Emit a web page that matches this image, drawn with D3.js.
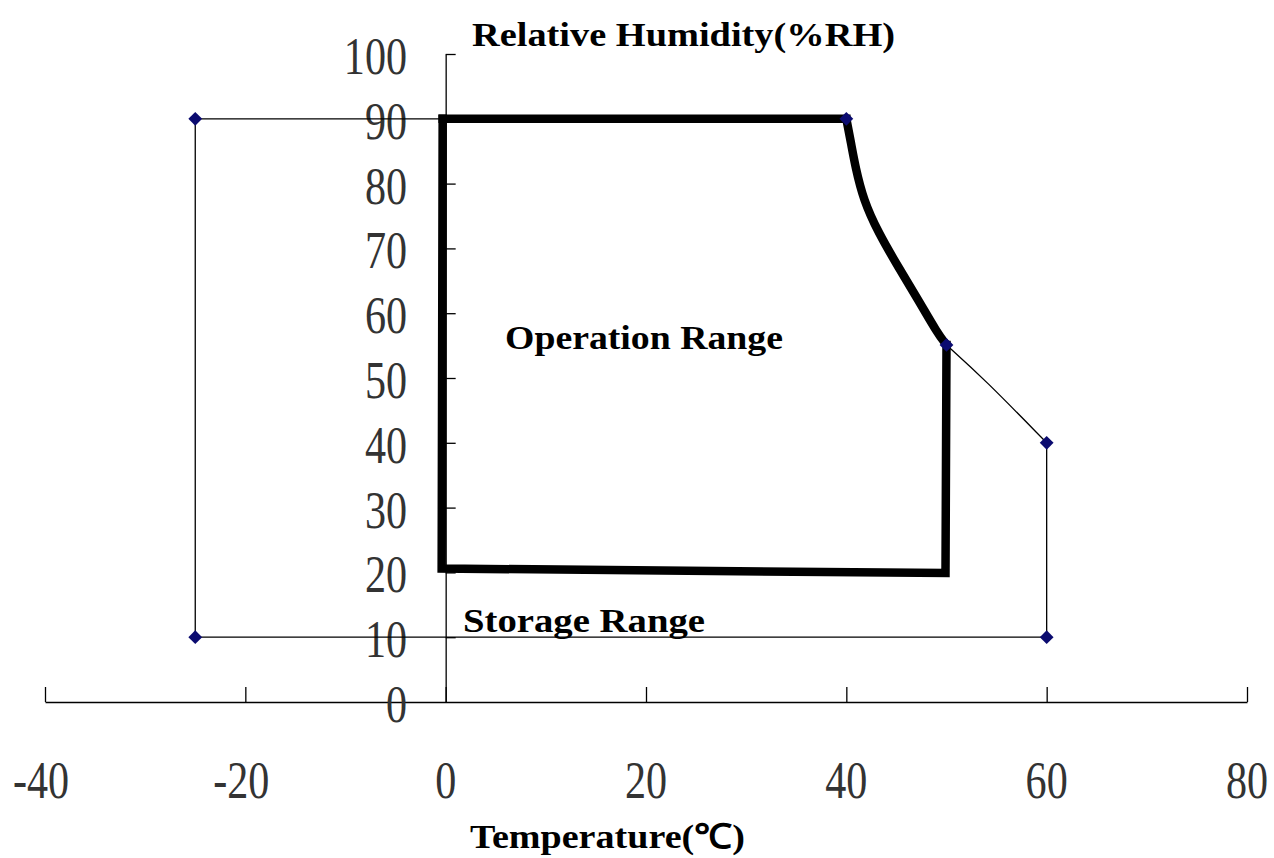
<!DOCTYPE html>
<html><head><meta charset="utf-8">
<script src="https://cdn.jsdelivr.net/npm/d3@7"></script>
<style>body{margin:0;background:#fff}svg{display:block}</style>
</head><body>
<svg id="c" width="1274" height="858"></svg>
<script>
// ---- data ----
const xTicks = [-40, -20, 0, 20, 40, 60, 80];
const yTicks = [0, 10, 20, 30, 40, 50, 60, 70, 80, 90, 100];
// Storage range boundary (temperature °C, humidity %RH)
const storageTopTemp = [-25, 40];
const storageTopRH   = [90, 90];
const storageSlopeTemp = [50, 53.8, 60];
const storageSlopeRH   = [55.1, 49.8, 40];
const storageRestTemp = [60, 60, -25, -25];
const storageRestRH   = [40, 10, 10, 90];
// Operation range boundary
const operTopTemp = [-0.3, 40];
const operTopRH   = [90, 90];
const operCurveTemp = [40, 40.5, 40.9, 41.7, 43.2, 45.2, 47.2, 49.1, 50];
const operCurveRH   = [90, 86, 82.6, 77.5, 72.4, 67.1, 62.0, 56.9, 55.1];
const operRestTemp = [50, 49.9, -0.4, -0.3];
const operRestRH   = [55.1, 19.9, 20.6, 90];
// Marker points
const markTemp = [-25, 40, 50, 60, 60, -25];
const markRH   = [90, 90, 55.1, 40, 10, 10];
const labels = {
  yTitle: "Relative Humidity(%RH)",
  xTitle: "Temperature(\u2103)",
  oper: "Operation Range",
  stor: "Storage Range"
};

const svg = d3.select("#c");
const x = d3.scaleLinear().domain([-40, 80]).range([45, 1247]);
const y = d3.scaleLinear().domain([0, 100]).range([702, 54]);
const zip = (a, b) => a.map((v, i) => [v, b[i]]);

// x axis
const gx = svg.append("g").attr("transform", `translate(0,${y(0)})`)
  .call(d3.axisTop(x).tickValues(xTicks).tickSize(15).tickSizeOuter(0).tickFormat(""));
gx.select(".domain").attr("stroke", "#000").attr("stroke-width", 1.3);
gx.selectAll(".tick line").attr("stroke", "#000").attr("stroke-width", 1.3);

// y axis
const gy = svg.append("g").attr("transform", `translate(${x(0)},0)`)
  .call(d3.axisRight(y).tickValues(yTicks.filter(d => d > 0)).tickSize(10).tickSizeOuter(0).tickFormat(""));
gy.select(".domain").attr("stroke", "#000").attr("stroke-width", 1.3);
gy.selectAll(".tick line").attr("stroke", "#000").attr("stroke-width", 1.3);

// tick labels
svg.append("g").selectAll("text").data(yTicks).join("text")
  .attr("transform", d => `translate(407,${y(d) + 20}) scale(0.81,1)`)
  .attr("text-anchor", "end")
  .attr("font-family", "Liberation Serif, serif")
  .attr("font-size", 52)
  .attr("fill", "#333")
  .text(d => d);

svg.append("g").selectAll("text").data(xTicks).join("text")
  .attr("transform", d => `translate(${x(d) - (d < 0 ? 4 : 0)},798) scale(0.81,1)`)
  .attr("text-anchor", "middle")
  .attr("font-family", "Liberation Serif, serif")
  .attr("font-size", 52)
  .attr("fill", "#333")
  .text(d => d);

// storage range (thin)
const straight = d3.line().x(d => x(d[0])).y(d => y(d[1]));
const curved = d3.line().x(d => x(d[0])).y(d => y(d[1])).curve(d3.curveBasis);
const thin = {fill: "none", stroke: "#000", "stroke-width": 1.3};
function applyAttrs(sel, a){ for (const k in a) sel.attr(k, a[k]); return sel; }
applyAttrs(svg.append("path").attr("d", straight(zip(storageTopTemp, storageTopRH))), thin);
applyAttrs(svg.append("path").attr("d", curved(zip(storageSlopeTemp, storageSlopeRH))), thin);
applyAttrs(svg.append("path").attr("d", straight(zip(storageRestTemp, storageRestRH))), thin);

// operation range (thick)
const thick = {fill: "none", stroke: "#000", "stroke-width": 8.5, "stroke-linejoin": "miter", "stroke-linecap": "square"};
applyAttrs(svg.append("path").attr("d", straight(zip(operTopTemp, operTopRH))), thick);
applyAttrs(svg.append("path").attr("d", curved(zip(operCurveTemp, operCurveRH))), Object.assign({}, thick, {"stroke-linecap": "round"}));
applyAttrs(svg.append("path").attr("d", straight(zip(operRestTemp, operRestRH))), thick);

// markers
const sq = d3.symbol().type(d3.symbolSquare).size(95);
svg.append("g").selectAll("path").data(zip(markTemp, markRH)).join("path")
  .attr("transform", d => `translate(${x(d[0])},${y(d[1])}) rotate(45)`)
  .attr("d", sq)
  .attr("fill", "#0b0b70");

// texts
function boldText(str, xPos, yPos, len, size) {
  svg.append("text").attr("x", xPos).attr("y", yPos)
    .attr("font-family", "Liberation Serif, serif").attr("font-weight", "bold")
    .attr("font-size", size).attr("fill", "#000")
    .attr("textLength", len).attr("lengthAdjust", "spacingAndGlyphs")
    .text(str);
}
boldText(labels.yTitle, 472, 46, 423, 33);
boldText(labels.oper, 505, 349, 278, 33);
boldText(labels.stor, 463, 632, 242, 33);
boldText(labels.xTitle, 470, 848, 275, 34);
</script>
</body></html>
